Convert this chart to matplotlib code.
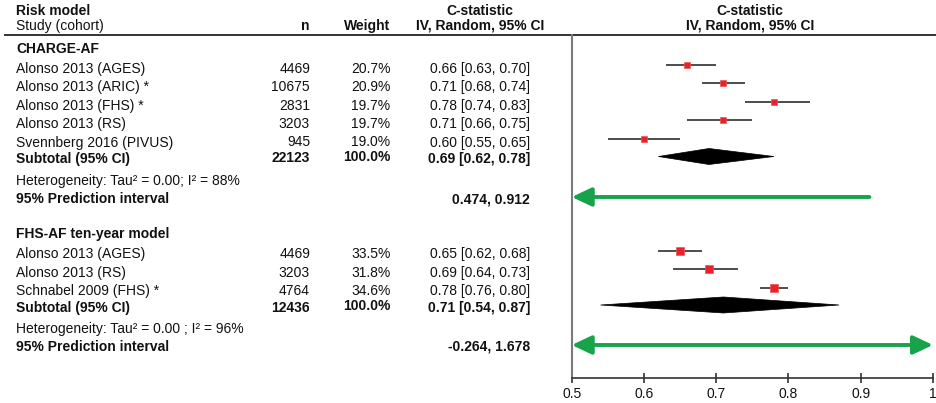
import numpy as np
import matplotlib
matplotlib.use("Agg")
import matplotlib.pyplot as plt
from matplotlib.patches import Polygon, FancyArrowPatch

plt.rcParams["font.family"] = ["Liberation Sans", "DejaVu Sans"]

# ---------------- data ----------------
g1_name = "CHARGE-AF"
g1_studies = ["Alonso 2013 (AGES)", "Alonso 2013 (ARIC) *", "Alonso 2013 (FHS) *",
              "Alonso 2013 (RS)", "Svennberg 2016 (PIVUS)"]
g1_n = [4469, 10675, 2831, 3203, 945]
g1_weight = [20.7, 20.9, 19.7, 19.7, 19.0]
g1_est = [0.66, 0.71, 0.78, 0.71, 0.60]
g1_lo = [0.63, 0.68, 0.74, 0.66, 0.55]
g1_hi = [0.70, 0.74, 0.83, 0.75, 0.65]
g1_total_n = 22123
g1_total_weight = 100.0
g1_pooled = [0.69, 0.62, 0.78]
g1_pi = [0.474, 0.912]
g1_het = "Heterogeneity: Tau\u00b2 = 0.00; I\u00b2 = 88%"

g2_name = "FHS-AF ten-year model"
g2_studies = ["Alonso 2013 (AGES)", "Alonso 2013 (RS)", "Schnabel 2009 (FHS) *"]
g2_n = [4469, 3203, 4764]
g2_weight = [33.5, 31.8, 34.6]
g2_est = [0.65, 0.69, 0.78]
g2_lo = [0.62, 0.64, 0.76]
g2_hi = [0.68, 0.73, 0.80]
g2_total_n = 12436
g2_total_weight = 100.0
g2_pooled = [0.71, 0.54, 0.87]
g2_pi = [-0.264, 1.678]
g2_het = "Heterogeneity: Tau\u00b2 = 0.00 ; I\u00b2 = 96%"

x_ticks = [0.5, 0.6, 0.7, 0.8, 0.9, 1.0]
x_tick_labels = ["0.5", "0.6", "0.7", "0.8", "0.9", "1"]

# ---------------- layout (figure pixels, y downwards) ----------------
W, H = 936, 403
FS = 10.0
COL_LEFT, COL_N, COL_W, COL_CI, COL_HDR, COL_PLOT_HDR = 16.5, 310, 390.5, 530, 480, 750
ROW_STEP = 18.45

groups = [
    dict(name=g1_name, studies=g1_studies, n=g1_n, w=g1_weight, est=g1_est, lo=g1_lo, hi=g1_hi,
         total_n=g1_total_n, total_w=g1_total_weight, pooled=g1_pooled, pi=g1_pi, het=g1_het,
         head_base=52.7, first_base=72.7, sub_base=162.5, het_base=185.0, pi_base=203.0,
         first_mark=64.7, diamond_y=156.5, pi_y=197.0),
    dict(name=g2_name, studies=g2_studies, n=g2_n, w=g2_weight, est=g2_est, lo=g2_lo, hi=g2_hi,
         total_n=g2_total_n, total_w=g2_total_weight, pooled=g2_pooled, pi=g2_pi, het=g2_het,
         head_base=238.3, first_base=258.3, sub_base=312.0, het_base=332.5, pi_base=350.7,
         first_mark=250.7, diamond_y=305.0, pi_y=345.0),
]

RED = "#e8222a"
GREEN = "#17a34a"
CI_GREY = "#4d4d4d"

AX_X0, AX_X1 = 571.7, 933.0
AX_TOP, AX_BOT = 35.0, 378.0

fig = plt.figure(figsize=(W / 100, H / 100), dpi=100)

# text layer in pixel coordinates
tax = fig.add_axes([0, 0, 1, 1])
tax.set_xlim(0, W)
tax.set_ylim(H, 0)
tax.axis("off")


def txt(x, y, s, ha="left", bold=False):
    tax.text(x, y, s, ha=ha, va="baseline", fontsize=FS,
             fontweight="bold" if bold else "normal", color="#111111")


# header
txt(COL_LEFT, 14.8, "Risk model", bold=True)
txt(COL_LEFT, 30.0, "Study (cohort)")
txt(COL_N, 30.0, "n", ha="right", bold=True)
txt(COL_W, 30.0, "Weight", ha="right", bold=True)
txt(COL_HDR, 14.8, "C-statistic", ha="center", bold=True)
txt(COL_HDR, 30.0, "IV, Random, 95% CI", ha="center", bold=True)
txt(COL_PLOT_HDR, 14.8, "C-statistic", ha="center", bold=True)
txt(COL_PLOT_HDR, 30.0, "IV, Random, 95% CI", ha="center", bold=True)
tax.plot([4, W], [35, 35], color="#333333", lw=1.4, solid_capstyle="butt")

for g in groups:
    txt(COL_LEFT, g["head_base"], g["name"], bold=True)
    for i, s in enumerate(g["studies"]):
        yb = g["first_base"] + i * ROW_STEP
        txt(COL_LEFT, yb, s)
        txt(COL_N, yb, f"{g['n'][i]}", ha="right")
        txt(COL_W, yb, f"{g['w'][i]:.1f}%", ha="right")
        txt(COL_CI, yb, f"{g['est'][i]:.2f} [{g['lo'][i]:.2f}, {g['hi'][i]:.2f}]", ha="right")
    p = g["pooled"]
    txt(COL_LEFT, g["sub_base"], "Subtotal (95% CI)", bold=True)
    txt(COL_N, g["sub_base"], f"{g['total_n']}", ha="right", bold=True)
    txt(COL_W, g["sub_base"] - 1.5, f"{g['total_w']:.1f}%", ha="right", bold=True)
    txt(COL_CI, g["sub_base"], f"{p[0]:.2f} [{p[1]:.2f}, {p[2]:.2f}]", ha="right", bold=True)
    txt(COL_LEFT, g["het_base"], g["het"])
    txt(COL_LEFT, g["pi_base"], "95% Prediction interval", bold=True)
    txt(COL_CI, g["pi_base"], f"{g['pi'][0]:.3f}, {g['pi'][1]:.3f}", ha="right", bold=True)

# forest plot axes: x in C-statistic units, y in figure pixel rows
fax = fig.add_axes([AX_X0 / W, (H - AX_BOT) / H, (AX_X1 - AX_X0) / W, (AX_BOT - AX_TOP) / H])
fax.set_xlim(0.5, 1.0)
fax.set_ylim(AX_BOT, AX_TOP)
fax.patch.set_alpha(0)
for side in ("top", "right"):
    fax.spines[side].set_visible(False)
fax.spines["left"].set_color("#7a7a7a")
fax.spines["left"].set_linewidth(1.5)
fax.spines["bottom"].set_color("#333333")
fax.spines["bottom"].set_linewidth(1.2)
fax.set_yticks([])
fax.set_xticks(x_ticks)
fax.set_xticklabels(x_tick_labels, fontsize=FS, color="#111111")
fax.tick_params(axis="x", direction="inout", length=6.5, width=1.2, color="#333333", pad=3.0)

for g in groups:
    for i in range(len(g["studies"])):
        y = g["first_mark"] + i * ROW_STEP
        fax.plot([g["lo"][i], g["hi"][i]], [y, y], color=CI_GREY, lw=1.4, solid_capstyle="butt", zorder=2)
        fax.plot(g["est"][i], y, marker="s", ms=1.077 * np.sqrt(g["w"][i]),
                 color=RED, mec="#f0555a", mew=0.5, zorder=3)
    est, lo, hi = g["pooled"]
    yc = g["diamond_y"]
    fax.add_patch(Polygon([[lo, yc], [est, yc - 8], [hi, yc], [est, yc + 8]],
                          closed=True, facecolor="black", edgecolor="black", lw=0.5, zorder=3))
    # prediction interval, clipped to the axis range with arrowheads where it runs off
    lo_pi, hi_pi = g["pi"]
    x0 = max(lo_pi, 0.5)
    x1 = min(hi_pi, 1.0)
    left_arrow = lo_pi < 0.5
    right_arrow = hi_pi > 1.0
    if left_arrow and right_arrow:
        style = "<|-|>,head_length=0.85,head_width=0.4"
    elif left_arrow:
        style = "<|-,head_length=0.85,head_width=0.4"
    elif right_arrow:
        style = "-|>,head_length=0.85,head_width=0.4"
    else:
        style = "-"
    arr = FancyArrowPatch((x0, g["pi_y"]), (x1, g["pi_y"]), arrowstyle=style,
                          mutation_scale=14, color=GREEN, lw=2.8,
                          shrinkA=0, shrinkB=0, zorder=3, clip_on=False)
    fax.add_patch(arr)

fig.savefig("out.png", dpi=100)
